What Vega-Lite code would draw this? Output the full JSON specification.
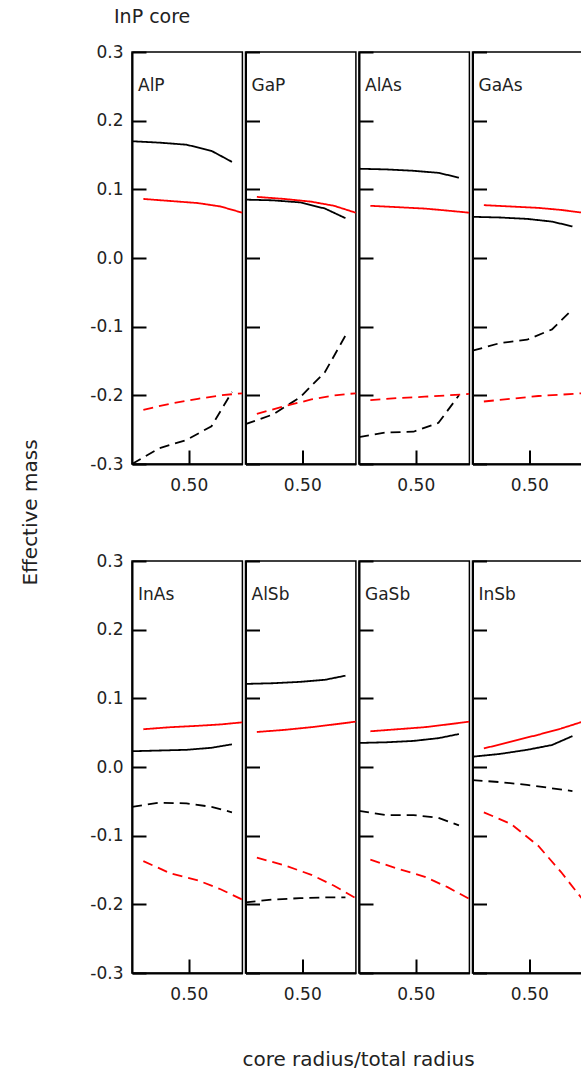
{
"$schema":"https://vega.github.io/schema/vega-lite/v6.json",
"padding":{"left":19,"top":8,"right":0,"bottom":0},
"background":"white",
"title":{"text":"InP core","anchor":"start","frame":"group","dx":-18,"offset":0,"baseline":"alphabetic","fontSize":19,"fontWeight":"normal","font":"DejaVu Sans","color":"#222"},
"datasets":{"d":[
{"m":"AlP","c":"k","s":"solid","r":0.25,"v":0.170},{"m":"AlP","c":"k","s":"solid","r":0.37,"v":0.168},{"m":"AlP","c":"k","s":"solid","r":0.49,"v":0.165},{"m":"AlP","c":"k","s":"solid","r":0.60,"v":0.156},{"m":"AlP","c":"k","s":"solid","r":0.69,"v":0.140},
{"m":"AlP","c":"r","s":"solid","r":0.30,"v":0.086},{"m":"AlP","c":"r","s":"solid","r":0.42,"v":0.083},{"m":"AlP","c":"r","s":"solid","r":0.54,"v":0.080},{"m":"AlP","c":"r","s":"solid","r":0.64,"v":0.075},{"m":"AlP","c":"r","s":"solid","r":0.735,"v":0.066},
{"m":"AlP","c":"k","s":"dashed","r":0.25,"v":-0.300},{"m":"AlP","c":"k","s":"dashed","r":0.37,"v":-0.277},{"m":"AlP","c":"k","s":"dashed","r":0.49,"v":-0.265},{"m":"AlP","c":"k","s":"dashed","r":0.60,"v":-0.245},{"m":"AlP","c":"k","s":"dashed","r":0.69,"v":-0.195},
{"m":"AlP","c":"r","s":"dashed","r":0.30,"v":-0.221},{"m":"AlP","c":"r","s":"dashed","r":0.42,"v":-0.212},{"m":"AlP","c":"r","s":"dashed","r":0.54,"v":-0.205},{"m":"AlP","c":"r","s":"dashed","r":0.64,"v":-0.200},{"m":"AlP","c":"r","s":"dashed","r":0.735,"v":-0.197},
{"m":"GaP","c":"k","s":"solid","r":0.25,"v":0.085},{"m":"GaP","c":"k","s":"solid","r":0.37,"v":0.084},{"m":"GaP","c":"k","s":"solid","r":0.49,"v":0.081},{"m":"GaP","c":"k","s":"solid","r":0.60,"v":0.072},{"m":"GaP","c":"k","s":"solid","r":0.69,"v":0.058},
{"m":"GaP","c":"r","s":"solid","r":0.30,"v":0.089},{"m":"GaP","c":"r","s":"solid","r":0.42,"v":0.086},{"m":"GaP","c":"r","s":"solid","r":0.54,"v":0.082},{"m":"GaP","c":"r","s":"solid","r":0.64,"v":0.076},{"m":"GaP","c":"r","s":"solid","r":0.735,"v":0.066},
{"m":"GaP","c":"k","s":"dashed","r":0.25,"v":-0.242},{"m":"GaP","c":"k","s":"dashed","r":0.37,"v":-0.228},{"m":"GaP","c":"k","s":"dashed","r":0.49,"v":-0.203},{"m":"GaP","c":"k","s":"dashed","r":0.60,"v":-0.166},{"m":"GaP","c":"k","s":"dashed","r":0.69,"v":-0.113},
{"m":"GaP","c":"r","s":"dashed","r":0.30,"v":-0.227},{"m":"GaP","c":"r","s":"dashed","r":0.42,"v":-0.216},{"m":"GaP","c":"r","s":"dashed","r":0.54,"v":-0.206},{"m":"GaP","c":"r","s":"dashed","r":0.64,"v":-0.200},{"m":"GaP","c":"r","s":"dashed","r":0.735,"v":-0.197},
{"m":"AlAs","c":"k","s":"solid","r":0.25,"v":0.130},{"m":"AlAs","c":"k","s":"solid","r":0.37,"v":0.129},{"m":"AlAs","c":"k","s":"solid","r":0.49,"v":0.127},{"m":"AlAs","c":"k","s":"solid","r":0.60,"v":0.124},{"m":"AlAs","c":"k","s":"solid","r":0.69,"v":0.117},
{"m":"AlAs","c":"r","s":"solid","r":0.30,"v":0.076},{"m":"AlAs","c":"r","s":"solid","r":0.42,"v":0.074},{"m":"AlAs","c":"r","s":"solid","r":0.54,"v":0.072},{"m":"AlAs","c":"r","s":"solid","r":0.64,"v":0.069},{"m":"AlAs","c":"r","s":"solid","r":0.735,"v":0.066},
{"m":"AlAs","c":"k","s":"dashed","r":0.25,"v":-0.261},{"m":"AlAs","c":"k","s":"dashed","r":0.37,"v":-0.254},{"m":"AlAs","c":"k","s":"dashed","r":0.49,"v":-0.253},{"m":"AlAs","c":"k","s":"dashed","r":0.60,"v":-0.240},{"m":"AlAs","c":"k","s":"dashed","r":0.69,"v":-0.200},
{"m":"AlAs","c":"r","s":"dashed","r":0.30,"v":-0.207},{"m":"AlAs","c":"r","s":"dashed","r":0.42,"v":-0.204},{"m":"AlAs","c":"r","s":"dashed","r":0.54,"v":-0.202},{"m":"AlAs","c":"r","s":"dashed","r":0.64,"v":-0.200},{"m":"AlAs","c":"r","s":"dashed","r":0.735,"v":-0.198},
{"m":"GaAs","c":"k","s":"solid","r":0.25,"v":0.060},{"m":"GaAs","c":"k","s":"solid","r":0.37,"v":0.059},{"m":"GaAs","c":"k","s":"solid","r":0.49,"v":0.057},{"m":"GaAs","c":"k","s":"solid","r":0.60,"v":0.053},{"m":"GaAs","c":"k","s":"solid","r":0.69,"v":0.046},
{"m":"GaAs","c":"r","s":"solid","r":0.30,"v":0.077},{"m":"GaAs","c":"r","s":"solid","r":0.42,"v":0.075},{"m":"GaAs","c":"r","s":"solid","r":0.54,"v":0.073},{"m":"GaAs","c":"r","s":"solid","r":0.64,"v":0.070},{"m":"GaAs","c":"r","s":"solid","r":0.735,"v":0.066},
{"m":"GaAs","c":"k","s":"dashed","r":0.25,"v":-0.135},{"m":"GaAs","c":"k","s":"dashed","r":0.37,"v":-0.124},{"m":"GaAs","c":"k","s":"dashed","r":0.49,"v":-0.119},{"m":"GaAs","c":"k","s":"dashed","r":0.60,"v":-0.104},{"m":"GaAs","c":"k","s":"dashed","r":0.69,"v":-0.075},
{"m":"GaAs","c":"r","s":"dashed","r":0.30,"v":-0.209},{"m":"GaAs","c":"r","s":"dashed","r":0.42,"v":-0.205},{"m":"GaAs","c":"r","s":"dashed","r":0.54,"v":-0.201},{"m":"GaAs","c":"r","s":"dashed","r":0.64,"v":-0.199},{"m":"GaAs","c":"r","s":"dashed","r":0.735,"v":-0.197},
{"m":"InAs","c":"k","s":"solid","r":0.25,"v":0.023},{"m":"InAs","c":"k","s":"solid","r":0.37,"v":0.024},{"m":"InAs","c":"k","s":"solid","r":0.49,"v":0.025},{"m":"InAs","c":"k","s":"solid","r":0.60,"v":0.028},{"m":"InAs","c":"k","s":"solid","r":0.69,"v":0.033},
{"m":"InAs","c":"r","s":"solid","r":0.30,"v":0.055},{"m":"InAs","c":"r","s":"solid","r":0.42,"v":0.058},{"m":"InAs","c":"r","s":"solid","r":0.54,"v":0.060},{"m":"InAs","c":"r","s":"solid","r":0.64,"v":0.062},{"m":"InAs","c":"r","s":"solid","r":0.735,"v":0.065},
{"m":"InAs","c":"k","s":"dashed","r":0.25,"v":-0.058},{"m":"InAs","c":"k","s":"dashed","r":0.37,"v":-0.052},{"m":"InAs","c":"k","s":"dashed","r":0.49,"v":-0.053},{"m":"InAs","c":"k","s":"dashed","r":0.60,"v":-0.058},{"m":"InAs","c":"k","s":"dashed","r":0.69,"v":-0.066},
{"m":"InAs","c":"r","s":"dashed","r":0.30,"v":-0.137},{"m":"InAs","c":"r","s":"dashed","r":0.42,"v":-0.155},{"m":"InAs","c":"r","s":"dashed","r":0.54,"v":-0.165},{"m":"InAs","c":"r","s":"dashed","r":0.64,"v":-0.178},{"m":"InAs","c":"r","s":"dashed","r":0.735,"v":-0.193},
{"m":"AlSb","c":"k","s":"solid","r":0.25,"v":0.121},{"m":"AlSb","c":"k","s":"solid","r":0.37,"v":0.122},{"m":"AlSb","c":"k","s":"solid","r":0.49,"v":0.124},{"m":"AlSb","c":"k","s":"solid","r":0.60,"v":0.127},{"m":"AlSb","c":"k","s":"solid","r":0.69,"v":0.133},
{"m":"AlSb","c":"r","s":"solid","r":0.30,"v":0.051},{"m":"AlSb","c":"r","s":"solid","r":0.42,"v":0.054},{"m":"AlSb","c":"r","s":"solid","r":0.54,"v":0.058},{"m":"AlSb","c":"r","s":"solid","r":0.64,"v":0.062},{"m":"AlSb","c":"r","s":"solid","r":0.735,"v":0.066},
{"m":"AlSb","c":"k","s":"dashed","r":0.25,"v":-0.197},{"m":"AlSb","c":"k","s":"dashed","r":0.37,"v":-0.193},{"m":"AlSb","c":"k","s":"dashed","r":0.49,"v":-0.191},{"m":"AlSb","c":"k","s":"dashed","r":0.60,"v":-0.190},{"m":"AlSb","c":"k","s":"dashed","r":0.69,"v":-0.190},
{"m":"AlSb","c":"r","s":"dashed","r":0.30,"v":-0.132},{"m":"AlSb","c":"r","s":"dashed","r":0.42,"v":-0.143},{"m":"AlSb","c":"r","s":"dashed","r":0.54,"v":-0.157},{"m":"AlSb","c":"r","s":"dashed","r":0.64,"v":-0.173},{"m":"AlSb","c":"r","s":"dashed","r":0.735,"v":-0.191},
{"m":"GaSb","c":"k","s":"solid","r":0.25,"v":0.035},{"m":"GaSb","c":"k","s":"solid","r":0.37,"v":0.036},{"m":"GaSb","c":"k","s":"solid","r":0.49,"v":0.038},{"m":"GaSb","c":"k","s":"solid","r":0.60,"v":0.042},{"m":"GaSb","c":"k","s":"solid","r":0.69,"v":0.048},
{"m":"GaSb","c":"r","s":"solid","r":0.30,"v":0.052},{"m":"GaSb","c":"r","s":"solid","r":0.42,"v":0.055},{"m":"GaSb","c":"r","s":"solid","r":0.54,"v":0.058},{"m":"GaSb","c":"r","s":"solid","r":0.64,"v":0.062},{"m":"GaSb","c":"r","s":"solid","r":0.735,"v":0.066},
{"m":"GaSb","c":"k","s":"dashed","r":0.25,"v":-0.064},{"m":"GaSb","c":"k","s":"dashed","r":0.37,"v":-0.070},{"m":"GaSb","c":"k","s":"dashed","r":0.49,"v":-0.070},{"m":"GaSb","c":"k","s":"dashed","r":0.60,"v":-0.074},{"m":"GaSb","c":"k","s":"dashed","r":0.69,"v":-0.085},
{"m":"GaSb","c":"r","s":"dashed","r":0.30,"v":-0.135},{"m":"GaSb","c":"r","s":"dashed","r":0.42,"v":-0.148},{"m":"GaSb","c":"r","s":"dashed","r":0.54,"v":-0.160},{"m":"GaSb","c":"r","s":"dashed","r":0.64,"v":-0.175},{"m":"GaSb","c":"r","s":"dashed","r":0.735,"v":-0.192},
{"m":"InSb","c":"k","s":"solid","r":0.25,"v":0.015},{"m":"InSb","c":"k","s":"solid","r":0.37,"v":0.019},{"m":"InSb","c":"k","s":"solid","r":0.49,"v":0.025},{"m":"InSb","c":"k","s":"solid","r":0.60,"v":0.032},{"m":"InSb","c":"k","s":"solid","r":0.69,"v":0.045},
{"m":"InSb","c":"r","s":"solid","r":0.30,"v":0.027},{"m":"InSb","c":"r","s":"solid","r":0.42,"v":0.037},{"m":"InSb","c":"r","s":"solid","r":0.54,"v":0.047},{"m":"InSb","c":"r","s":"solid","r":0.64,"v":0.056},{"m":"InSb","c":"r","s":"solid","r":0.735,"v":0.066},
{"m":"InSb","c":"k","s":"dashed","r":0.25,"v":-0.019},{"m":"InSb","c":"k","s":"dashed","r":0.37,"v":-0.022},{"m":"InSb","c":"k","s":"dashed","r":0.49,"v":-0.026},{"m":"InSb","c":"k","s":"dashed","r":0.60,"v":-0.031},{"m":"InSb","c":"k","s":"dashed","r":0.69,"v":-0.035},
{"m":"InSb","c":"r","s":"dashed","r":0.30,"v":-0.066},{"m":"InSb","c":"r","s":"dashed","r":0.42,"v":-0.083},{"m":"InSb","c":"r","s":"dashed","r":0.54,"v":-0.115},{"m":"InSb","c":"r","s":"dashed","r":0.64,"v":-0.153},{"m":"InSb","c":"r","s":"dashed","r":0.735,"v":-0.193}
]},
"data":{"name":"d"},
"bounds":"flush",
"columns":4,
"spacing":{"row":97,"column":2.5},
"concat":[
{"width":110.4,"height":412,"title":{"text":"AlP","offset":-52},"transform":[{"filter":"datum.m==='AlP'"}],"mark":{"type":"line","strokeWidth":1.8},
 "encoding":{"x":{"field":"r","type":"quantitative","scale":{"domain":[0.25,0.736],"nice":false,"zero":false},"axis":{"values":[0.5],"title":null}},
 "y":{"field":"v","type":"quantitative","scale":{"domain":[-0.3,0.3],"nice":false},"axis":{"values":[-0.3,-0.2,-0.1,0,0.1,0.2,0.3],"labels":true,"title":"Effective mass","titleX":-96,"titleY":460,"titleBaseline":"alphabetic","titleAngle":-90,"titleAlign":"center","titleFontSize":20}},
 "color":{"field":"c","type":"nominal","scale":{"domain":["k","r"],"range":["#000000","#ff0000"]},"legend":null},
 "strokeDash":{"field":"s","type":"nominal","scale":{"domain":["solid","dashed"],"range":[[1,0],[10,6]]},"legend":null}}},
{"width":110.4,"height":412,"title":{"text":"GaP"},"transform":[{"filter":"datum.m==='GaP'"}],"mark":{"type":"line","strokeWidth":1.8},
 "encoding":{"x":{"field":"r","type":"quantitative","scale":{"domain":[0.25,0.736],"nice":false,"zero":false},"axis":{"values":[0.5],"title":null}},
 "y":{"field":"v","type":"quantitative","scale":{"domain":[-0.3,0.3],"nice":false},"axis":{"values":[-0.3,-0.2,-0.1,0,0.1,0.2,0.3],"labels":false,"title":null}},
 "color":{"field":"c","type":"nominal","scale":{"domain":["k","r"],"range":["#000000","#ff0000"]},"legend":null},
 "strokeDash":{"field":"s","type":"nominal","scale":{"domain":["solid","dashed"],"range":[[1,0],[10,6]]},"legend":null}}},
{"width":110.4,"height":412,"title":{"text":"AlAs"},"transform":[{"filter":"datum.m==='AlAs'"}],"mark":{"type":"line","strokeWidth":1.8},
 "encoding":{"x":{"field":"r","type":"quantitative","scale":{"domain":[0.25,0.736],"nice":false,"zero":false},"axis":{"values":[0.5],"title":null}},
 "y":{"field":"v","type":"quantitative","scale":{"domain":[-0.3,0.3],"nice":false},"axis":{"values":[-0.3,-0.2,-0.1,0,0.1,0.2,0.3],"labels":false,"title":null}},
 "color":{"field":"c","type":"nominal","scale":{"domain":["k","r"],"range":["#000000","#ff0000"]},"legend":null},
 "strokeDash":{"field":"s","type":"nominal","scale":{"domain":["solid","dashed"],"range":[[1,0],[10,6]]},"legend":null}}},
{"width":110.4,"height":412,"title":{"text":"GaAs"},"transform":[{"filter":"datum.m==='GaAs'"}],"mark":{"type":"line","strokeWidth":1.8},
 "encoding":{"x":{"field":"r","type":"quantitative","scale":{"domain":[0.25,0.736],"nice":false,"zero":false},"axis":{"values":[0.5],"title":null}},
 "y":{"field":"v","type":"quantitative","scale":{"domain":[-0.3,0.3],"nice":false},"axis":{"values":[-0.3,-0.2,-0.1,0,0.1,0.2,0.3],"labels":false,"title":null}},
 "color":{"field":"c","type":"nominal","scale":{"domain":["k","r"],"range":["#000000","#ff0000"]},"legend":null},
 "strokeDash":{"field":"s","type":"nominal","scale":{"domain":["solid","dashed"],"range":[[1,0],[10,6]]},"legend":null}}},
{"width":110.4,"height":412,"title":{"text":"InAs","offset":-52},"transform":[{"filter":"datum.m==='InAs'"}],"mark":{"type":"line","strokeWidth":1.8},
 "encoding":{"x":{"field":"r","type":"quantitative","scale":{"domain":[0.25,0.736],"nice":false,"zero":false},"axis":{"values":[0.5],"title":null}},
 "y":{"field":"v","type":"quantitative","scale":{"domain":[-0.3,0.3],"nice":false},"axis":{"values":[-0.3,-0.2,-0.1,0,0.1,0.2,0.3],"labels":true,"title":null}},
 "color":{"field":"c","type":"nominal","scale":{"domain":["k","r"],"range":["#000000","#ff0000"]},"legend":null},
 "strokeDash":{"field":"s","type":"nominal","scale":{"domain":["solid","dashed"],"range":[[1,0],[10,6]]},"legend":null}}},
{"width":110.4,"height":412,"title":{"text":"AlSb"},"transform":[{"filter":"datum.m==='AlSb'"}],"mark":{"type":"line","strokeWidth":1.8},
 "encoding":{"x":{"field":"r","type":"quantitative","scale":{"domain":[0.25,0.736],"nice":false,"zero":false},"axis":{"values":[0.5],"title":null}},
 "y":{"field":"v","type":"quantitative","scale":{"domain":[-0.3,0.3],"nice":false},"axis":{"values":[-0.3,-0.2,-0.1,0,0.1,0.2,0.3],"labels":false,"title":null}},
 "color":{"field":"c","type":"nominal","scale":{"domain":["k","r"],"range":["#000000","#ff0000"]},"legend":null},
 "strokeDash":{"field":"s","type":"nominal","scale":{"domain":["solid","dashed"],"range":[[1,0],[10,6]]},"legend":null}}},
{"width":110.4,"height":412,"title":{"text":"GaSb"},"transform":[{"filter":"datum.m==='GaSb'"}],"mark":{"type":"line","strokeWidth":1.8},
 "encoding":{"x":{"field":"r","type":"quantitative","scale":{"domain":[0.25,0.736],"nice":false,"zero":false},"axis":{"values":[0.5],"title":"core radius/total radius","titleX":-1,"titleY":92,"titleBaseline":"alphabetic","titleAlign":"center","titleFontSize":20}},
 "y":{"field":"v","type":"quantitative","scale":{"domain":[-0.3,0.3],"nice":false},"axis":{"values":[-0.3,-0.2,-0.1,0,0.1,0.2,0.3],"labels":false,"title":null}},
 "color":{"field":"c","type":"nominal","scale":{"domain":["k","r"],"range":["#000000","#ff0000"]},"legend":null},
 "strokeDash":{"field":"s","type":"nominal","scale":{"domain":["solid","dashed"],"range":[[1,0],[10,6]]},"legend":null}}},
{"width":110.4,"height":412,"title":{"text":"InSb"},"transform":[{"filter":"datum.m==='InSb'"}],"mark":{"type":"line","strokeWidth":1.8},
 "encoding":{"x":{"field":"r","type":"quantitative","scale":{"domain":[0.25,0.736],"nice":false,"zero":false},"axis":{"values":[0.5],"title":null}},
 "y":{"field":"v","type":"quantitative","scale":{"domain":[-0.3,0.3],"nice":false},"axis":{"values":[-0.3,-0.2,-0.1,0,0.1,0.2,0.3],"labels":false,"title":null}},
 "color":{"field":"c","type":"nominal","scale":{"domain":["k","r"],"range":["#000000","#ff0000"]},"legend":null},
 "strokeDash":{"field":"s","type":"nominal","scale":{"domain":["solid","dashed"],"range":[[1,0],[10,6]]},"legend":null}}}
],
"config":{
 "view":{"stroke":"#000000","strokeWidth":1.5},
 "font":"DejaVu Sans",
 "title":{"anchor":"start","frame":"group","offset":-44,"dx":6,"baseline":"alphabetic","fontSize":17,"fontWeight":"normal","font":"DejaVu Sans","color":"#222222"},
 "axis":{"grid":false,"domainColor":"#000000","domainWidth":2,"tickColor":"#000000","tickWidth":2,"tickSize":-14,"labelFont":"DejaVu Sans","labelFontSize":17,"labelColor":"#222222","titleFont":"DejaVu Sans","titleFontWeight":"normal","titleColor":"#222222"},
 "axisX":{"format":".2f","labelPadding":27},
 "axisY":{"labelExpr":"replace(format(datum.value,'.1f'),'\u2212','-')","labelPadding":23}
}
}
